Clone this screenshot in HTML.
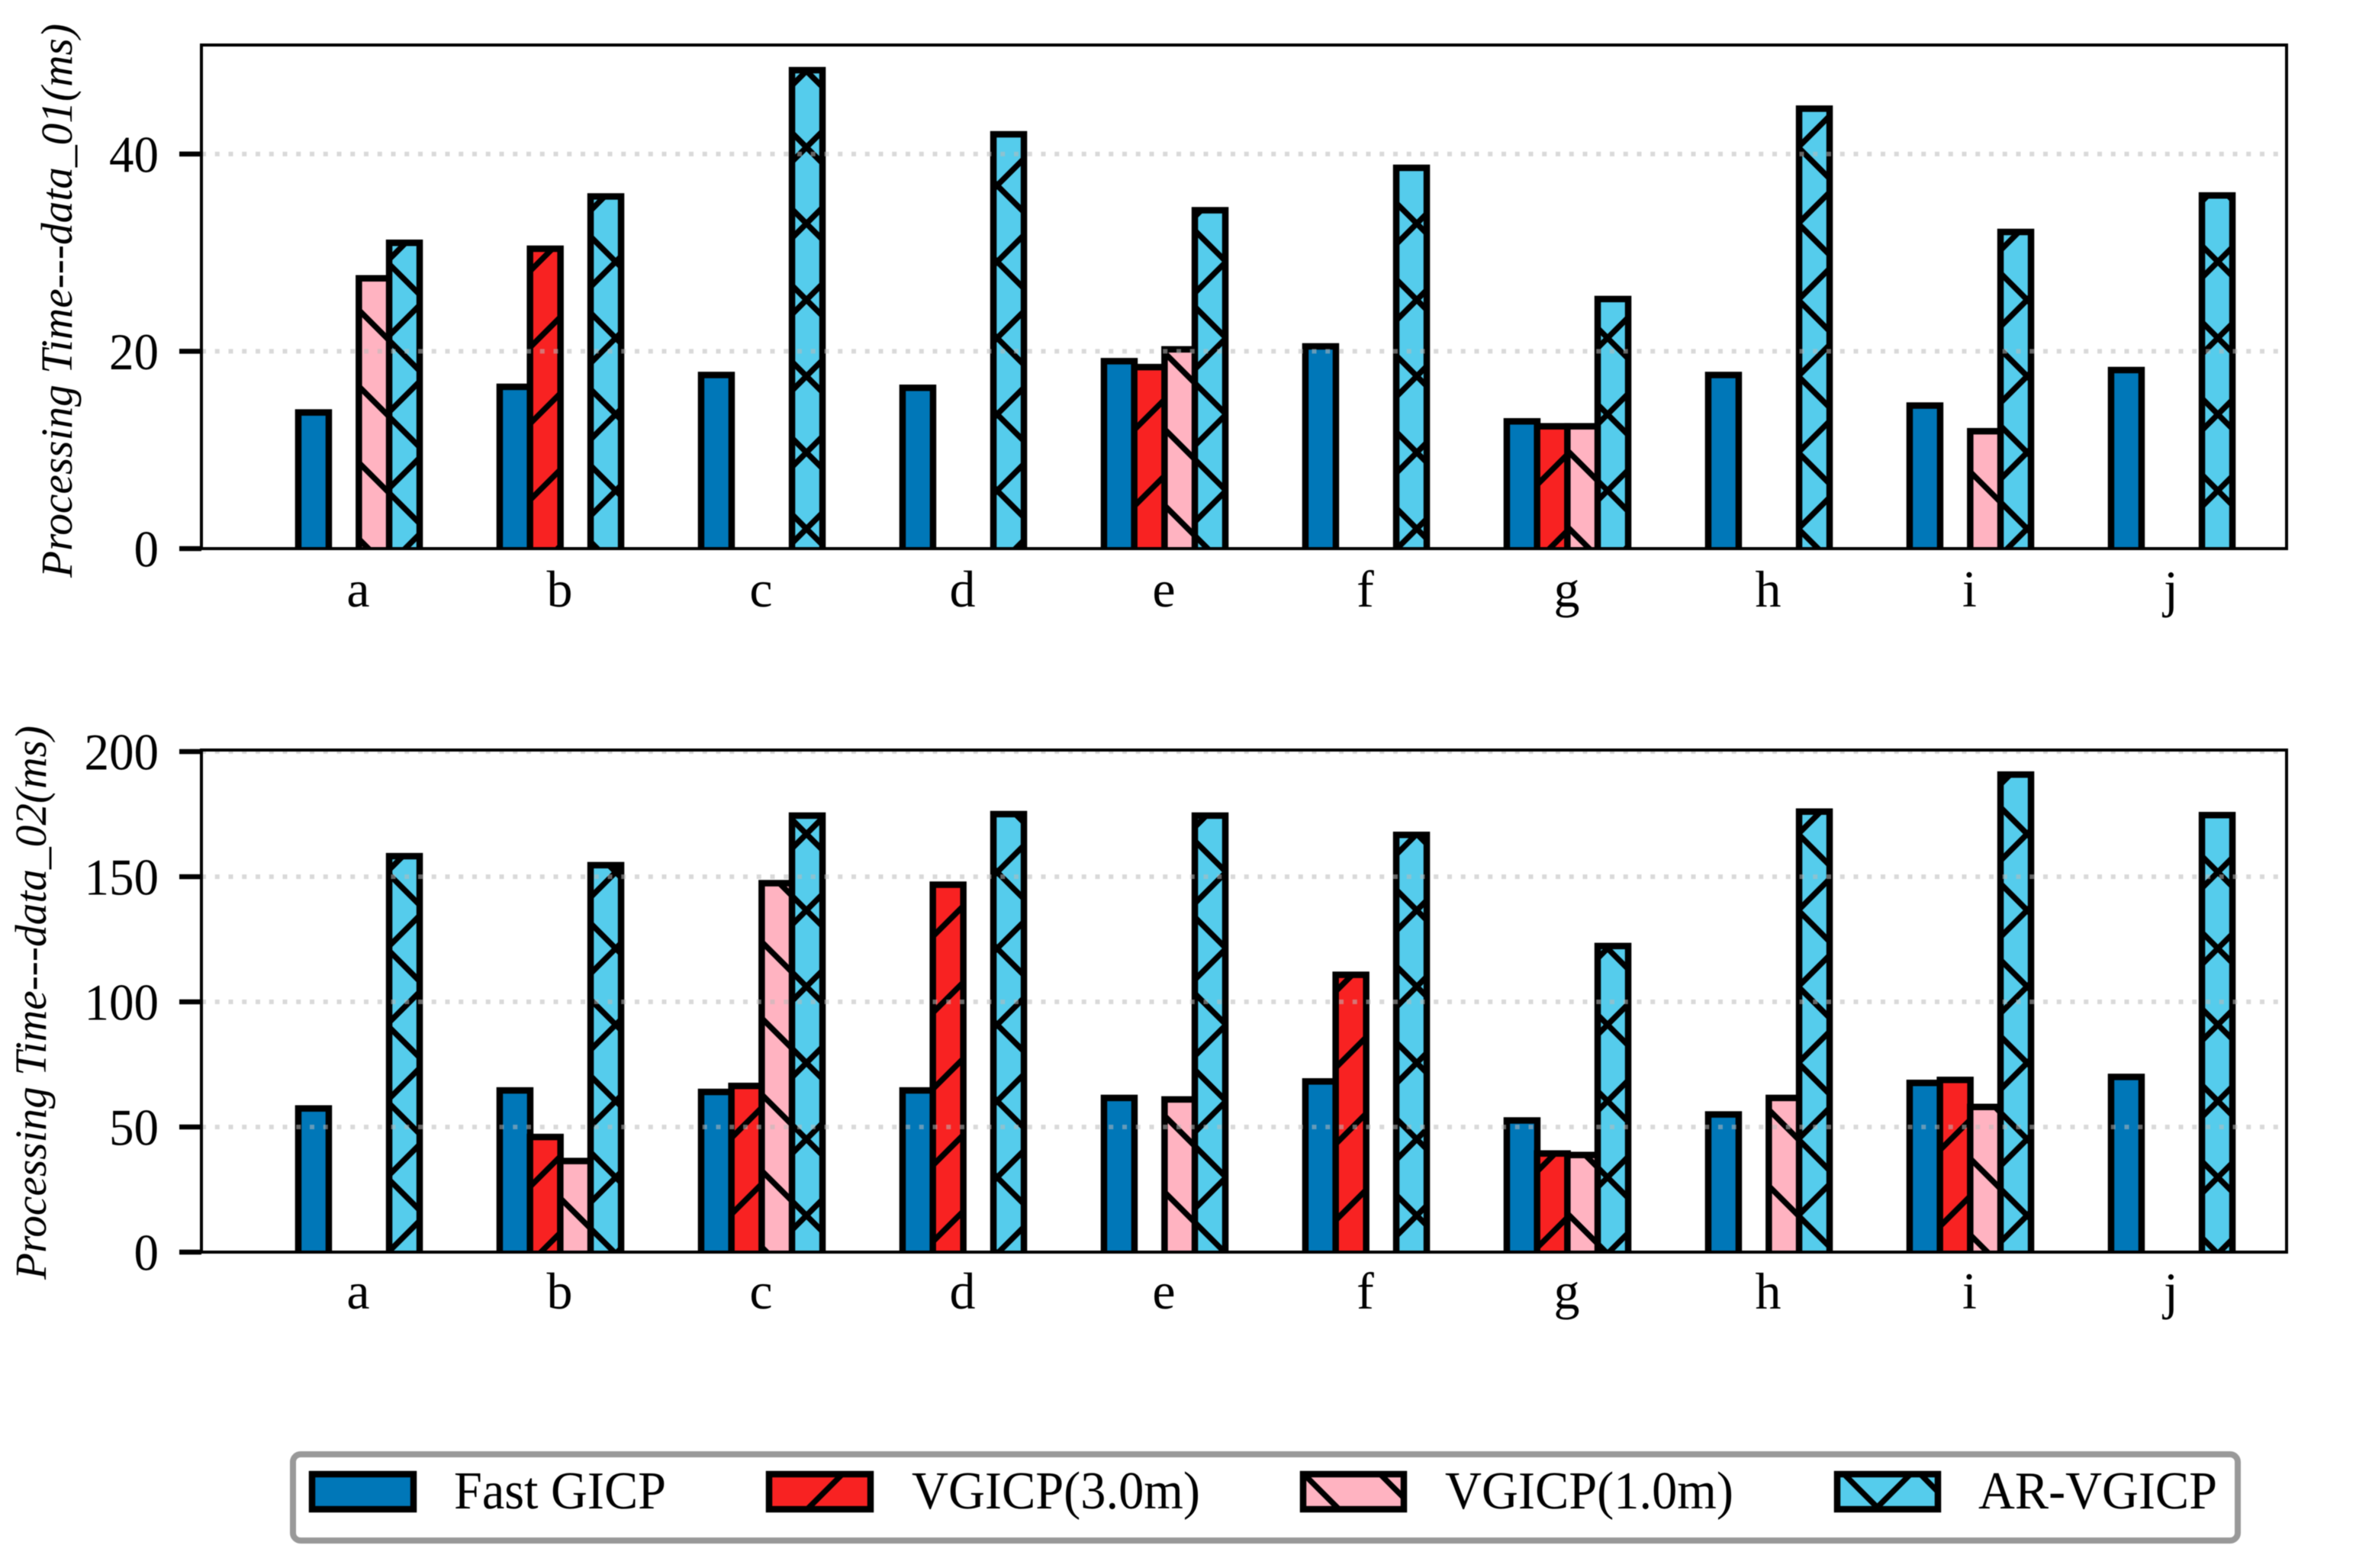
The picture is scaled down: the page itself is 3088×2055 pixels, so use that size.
<!DOCTYPE html>
<html>
<head>
<meta charset="utf-8">
<title>Processing Time</title>
<style>
html,body{margin:0;padding:0;background:#fff;}
svg{display:block;filter:blur(0.6px);}
text{font-family:"Liberation Serif",serif;fill:#000;}
</style>
</head>
<body>
<svg id="figure" xmlns="http://www.w3.org/2000/svg" width="3088" height="2055" viewBox="0 0 3088 2055">
<rect width="3088" height="2055" fill="#fff"/>
<defs id="defs"></defs>
</svg>
<script>
const categories = ['a','b','c','d','e','f','g','h','i','j'];
const seriesNames = ['Fast GICP','VGICP(3.0m)','VGICP(1.0m)','AR-VGICP'];
const ticksData01 = [0,20,40];
const ticksData02 = [0,50,100,150,200];
const data01Fast = [13.8,16.4,17.6,16.3,19.0,20.5,12.9,17.6,14.5,18.1];
const data01Vgicp3 = [null,30.4,null,null,18.4,null,12.4,null,null,null];
const data01Vgicp1 = [27.4,null,null,null,20.2,null,12.4,null,11.9,null];
const data01Ar = [31.0,35.7,48.5,42.0,34.3,38.6,25.3,44.6,32.1,35.8];
const data02Fast = [57.4,64.6,64.0,64.6,61.6,68.2,52.6,55.0,67.6,70.0];
const data02Vgicp3 = [null,46.0,66.4,146.8,null,110.8,39.4,null,68.8,null];
const data02Vgicp1 = [null,36.4,147.4,null,61.0,null,38.8,61.6,58.0,null];
const data02Ar = [158.2,154.6,174.4,175.0,174.4,166.7,122.3,176.0,190.8,174.6];

const NS = 'http://www.w3.org/2000/svg';
const svg = document.getElementById('figure');
const defs = document.getElementById('defs');
const fills = ['#0077B8','#F82222','#FFB3C1','#55CCEC'];
const xLeft = 264, xRight = 2997;
const firstCenter = 470.5, groupStep = 264, barWidth = 40;

function make(tag, attrs, parent) {
  const el = document.createElementNS(NS, tag);
  for (const k in attrs) el.setAttribute(k, attrs[k]);
  (parent || svg).appendChild(el);
  return el;
}

function xScale(i) { return firstCenter + i * groupStep; }

function hatchPattern(id, slashPhase, backPhase) {
  const p = make('pattern', {id: id, patternUnits: 'userSpaceOnUse', width: 100, height: 100}, defs);
  if (slashPhase !== null) {
    [slashPhase, slashPhase + 100].forEach(function (c) {
      make('line', {x1: -10, y1: c + 10, x2: c + 10, y2: -10, stroke: '#000', 'stroke-width': 7.5}, p);
    });
  }
  if (backPhase !== null) {
    [backPhase - 100, backPhase, backPhase + 100].forEach(function (d) {
      make('line', {x1: -10, y1: -10 - d, x2: 110, y2: 110 - d, stroke: '#000', 'stroke-width': 7.5}, p);
    });
  }
}
hatchPattern('h1', 50, null);
hatchPattern('h2', null, 64);
hatchPattern('h3', 50, 64);
hatchPattern('l1', 36, null);
hatchPattern('l2', null, 77);
hatchPattern('l3', 36, 85);
const hatches = [null, 'h1', 'h2', 'h3'];
const legendHatches = [null, 'l1', 'l2', 'l3'];

function drawBar(parent, x, y, w, h, sIndex, hatchId) {
  const g = make('g', {}, parent);
  
  
  make('rect', {x: x, y: y, width: w, height: h, fill: fills[sIndex]}, g);
  make('rect', {x: x, y: y, width: w, height: h, fill: hatchId ? 'url(#' + hatchId + ')' : 'none', stroke: '#000', 'stroke-width': 8.5}, g);
}

function drawPanel(key, top, bottom, yMax, ticks, seriesList, yTitle, titleX, titleY, titleLen, xLabelY) {
  const yScale = function (v) { return bottom - (v / yMax) * (bottom - top); };

  const panel = make('g', {});
  
  

  const clip = make('clipPath', {id: 'clip-' + key}, defs);
  make('rect', {x: xLeft, y: top, width: xRight - xLeft, height: bottom - top}, clip);

  const bars = make('g', {'clip-path': 'url(#clip-' + key + ')'}, panel);
  
  
  seriesList.forEach(function (values, s) {
    values.forEach(function (v, i) {
      if (v === null) return;
      const cx = xScale(i) + (s - 1.5) * (barWidth - 0.3);
      drawBar(bars, cx - barWidth / 2, yScale(v), barWidth, bottom - yScale(v) + 10, s, hatches[s]);
    });
  });

  ticks.forEach(function (t) {
    const y = yScale(t);
    if (t !== 0) {
      const grid = make('line', {x1: xLeft, y1: y, x2: xRight, y2: y, stroke: '#b9b9b9', 'stroke-opacity': 0.55, 'stroke-width': 6, 'stroke-dasharray': '6 11.75'}, panel);
      
      
    }
    const tick = make('line', {x1: 235, y1: y, x2: xLeft, y2: y, stroke: '#000', 'stroke-width': 6.5}, panel);
    
    
    const lab = make('text', {x: 208, y: y + 23.5, 'text-anchor': 'end', 'font-size': 68, textLength: String(t).length * 32.5, lengthAdjust: 'spacingAndGlyphs'}, panel);
    
    
    lab.textContent = String(t);
  });

  const frame = make('rect', {x: xLeft, y: top, width: xRight - xLeft, height: bottom - top, fill: 'none', stroke: '#000', 'stroke-width': 4}, panel);
  
  

  categories.forEach(function (c, i) {
    const lab = make('text', {x: xScale(i) - 1, y: xLabelY, 'text-anchor': 'middle', 'font-size': 68}, panel);
    
    
    lab.textContent = c;
  });

  const title = make('text', {
    x: 0, y: 0, 'font-size': 58, 'font-style': 'italic',
    transform: 'translate(' + titleX + ',' + titleY + ') rotate(-90)',
    textLength: titleLen, lengthAdjust: 'spacingAndGlyphs'
  }, panel);
  
  
  title.textContent = yTitle;
}

drawPanel('data-01', 59, 719, 51.05, ticksData01,
  [data01Fast, data01Vgicp3, data01Vgicp1, data01Ar],
  'Processing Time---data_01(ms)', 94, 757, 726, 795);
drawPanel('data-02', 983, 1641, 200.6, ticksData02,
  [data02Fast, data02Vgicp3, data02Vgicp1, data02Ar],
  'Processing Time---data_02(ms)', 60, 1677, 726, 1715);

const legend = make('g', {});


const legendFrame = make('rect', {x: 384, y: 1906, width: 2549, height: 113, rx: 10, ry: 10, fill: '#fff', stroke: '#999', 'stroke-width': 8}, legend);



const legendPatchX = [409, 1008, 1708, 2408];
const legendPatchW = [133, 133, 132, 132];
const legendTextX = [595, 1195, 1894, 2593];
const legendTextW = [278, 378, 378, 313];
seriesNames.forEach(function (name, s) {
  const entry = make('g', {}, legend);
  
  
  make('rect', {x: legendPatchX[s], y: 1932, width: legendPatchW[s], height: 46, fill: fills[s]}, entry);
  make('rect', {x: legendPatchX[s], y: 1932, width: legendPatchW[s], height: 46, fill: legendHatches[s] ? 'url(#' + legendHatches[s] + ')' : 'none', stroke: '#000', 'stroke-width': 8.5}, entry);
  const t = make('text', {x: legendTextX[s], y: 1977, 'font-size': 70, textLength: legendTextW[s], lengthAdjust: 'spacingAndGlyphs'}, entry);
  
  
  t.textContent = name;
});
</script>
</body>
</html>
